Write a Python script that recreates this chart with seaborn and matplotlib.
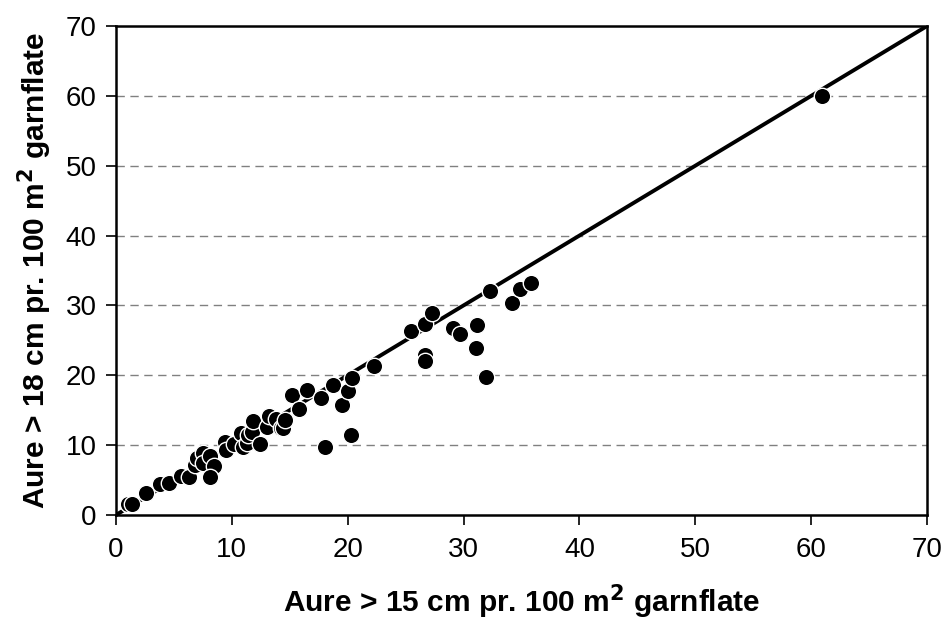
import numpy as np
import pandas as pd
import matplotlib
matplotlib.use("Agg")
import matplotlib.pyplot as plt
import seaborn as sns

# values
aure_15 = [1.0, 1.4, 2.6, 3.8, 4.6, 5.6, 6.3, 6.8, 7.0, 7.5, 7.5, 8.1, 8.5, 8.1,
           9.4, 9.5, 10.2, 10.8, 11.0, 11.3, 11.4, 11.7, 11.8, 12.4, 13.0, 13.2,
           13.8, 14.2, 14.4, 14.6, 15.2, 15.8, 16.5, 17.7, 18.0, 18.7, 19.5, 20.0,
           20.3, 20.4, 22.3, 25.5, 26.7, 26.7, 26.7, 27.3, 29.1, 29.7, 31.1, 31.2,
           31.9, 32.3, 34.2, 34.9, 35.8, 60.9]
aure_18 = [1.5, 1.6, 3.2, 4.5, 4.6, 5.6, 5.5, 7.2, 8.2, 8.8, 7.4, 8.4, 7.0, 5.4,
           10.5, 9.3, 10.2, 11.7, 9.8, 10.3, 11.5, 11.9, 13.5, 10.1, 12.6, 14.1,
           13.8, 12.4, 12.4, 13.6, 17.2, 15.1, 17.9, 16.7, 9.7, 18.6, 15.8, 17.8,
           11.4, 19.6, 21.3, 26.3, 27.4, 22.9, 22.0, 28.9, 26.7, 25.9, 23.9, 27.2,
           19.7, 32.0, 30.4, 32.3, 33.2, 60.0]
line_x = [0, 70]
line_y = [0, 70]
ticks = [0, 10, 20, 30, 40, 50, 60, 70]

df = pd.DataFrame({"x": aure_15, "y": aure_18})

sns.set_style("white")
plt.rcParams["font.family"] = ["Liberation Sans", "DejaVu Sans"]
plt.rcParams["text.color"] = "black"
plt.rcParams["axes.labelcolor"] = "black"
plt.rcParams["xtick.color"] = "black"
plt.rcParams["ytick.color"] = "black"

fig = plt.figure(figsize=(9.46, 6.28), dpi=100)
ax = fig.add_axes([0.1226, 0.18, 0.8574, 0.7786])

for t in ticks[1:-1]:
    ax.axhline(t, color="#808080", lw=1, ls=(0, (6, 4)), zorder=0)

ax.plot(line_x, line_y, color="black", lw=2.8, zorder=2, solid_capstyle="butt")
sns.scatterplot(data=df, x="x", y="y", ax=ax, color="black", s=140,
                edgecolor="white", linewidth=1.0, zorder=3, legend=False)

ax.set_xlim(0, 70)
ax.set_ylim(0, 70)
ax.set_xticks(ticks)
ax.set_yticks(ticks)
ax.tick_params(axis="both", labelsize=20, direction="out", length=7, width=1.2,
               color="black", labelcolor="black", bottom=True, left=True)
ax.tick_params(axis="x", pad=9)
ax.tick_params(axis="y", pad=7)
for s in ax.spines.values():
    s.set_color("black")
    s.set_linewidth(1.8)

ax.set_xlabel("Aure > 15 cm pr. 100 m$^{\\mathbf{2}}$ garnflate", fontsize=21.5,
              fontweight="bold", labelpad=14, color="black")
ax.set_ylabel("Aure > 18 cm pr. 100 m$^{\\mathbf{2}}$ garnflate", fontsize=21.5,
              fontweight="bold", labelpad=8, color="black")

fig.savefig("out.png", dpi=100)
